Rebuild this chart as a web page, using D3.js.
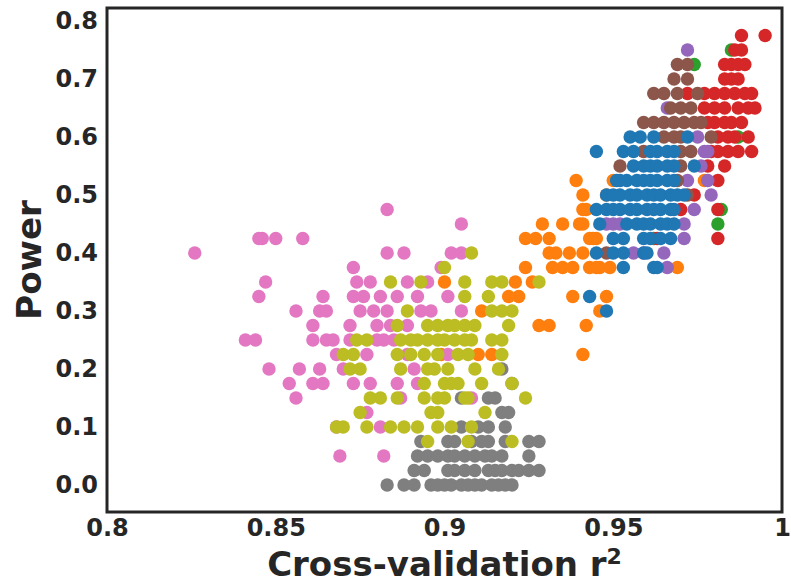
<!DOCTYPE html>
<html>
<head>
<meta charset="utf-8">
<script src="https://cdn.jsdelivr.net/npm/d3@7"></script>
<style>
  body { margin: 0; background: #fff; }
  text { font-family: "DejaVu Sans", sans-serif; font-weight: bold; fill: #262626; }
</style>
</head>
<body>
<div class="chart"></div>
<script>
// Each row: [power, [cross-validation r2 values at that power]]
const pinkRows = [
    [0.475, [0.883]],
    [0.45, [0.905]],
    [0.425, [0.845, 0.846, 0.850, 0.858]],
    [0.4, [0.826, 0.883, 0.888, 0.902, 0.905]],
    [0.375, [0.873, 0.899]],
    [0.35, [0.847, 0.874, 0.878, 0.889, 0.895]],
    [0.325, [0.845, 0.864, 0.873, 0.876, 0.881, 0.886, 0.892, 0.901]],
    [0.3, [0.856, 0.863, 0.865, 0.875, 0.879, 0.883, 0.893, 0.896, 0.905]],
    [0.275, [0.861, 0.872, 0.880, 0.884, 0.889]],
    [0.25, [0.841, 0.844, 0.861, 0.865, 0.867, 0.872, 0.880, 0.882, 0.885]],
    [0.225, [0.868, 0.877, 0.889, 0.901]],
    [0.2, [0.848, 0.857, 0.863, 0.870, 0.891]],
    [0.175, [0.854, 0.861, 0.864, 0.873, 0.878, 0.886, 0.892]],
    [0.15, [0.856, 0.887, 0.908]],
    [0.125, [0.877]],
    [0.1, [0.868, 0.881]],
    [0.05, [0.869, 0.882]]
];

const oliveRows = [
    [0.4, [0.908]],
    [0.375, [0.900]],
    [0.35, [0.884, 0.893, 0.906, 0.914, 0.917, 0.928]],
    [0.325, [0.906, 0.913]],
    [0.3, [0.889, 0.914, 0.917, 0.920]],
    [0.275, [0.886, 0.895, 0.898, 0.901, 0.903, 0.906, 0.909, 0.919]],
    [0.25, [0.874, 0.877, 0.887, 0.890, 0.892, 0.895, 0.898, 0.900, 0.903, 0.906, 0.908, 0.914, 0.917]],
    [0.225, [0.870, 0.873, 0.886, 0.890, 0.894, 0.898, 0.904, 0.907, 0.917]],
    [0.2, [0.872, 0.875, 0.887, 0.895, 0.897, 0.901, 0.909, 0.916]],
    [0.175, [0.894, 0.900, 0.902, 0.904, 0.911, 0.920]],
    [0.15, [0.878, 0.881, 0.886, 0.894, 0.898, 0.900, 0.906, 0.907, 0.924]],
    [0.125, [0.875, 0.896, 0.898, 0.912]],
    [0.1, [0.868, 0.870, 0.877, 0.884, 0.888, 0.892, 0.898, 0.902, 0.908]],
    [0.075, [0.895, 0.907, 0.920]]
];

const grayRows = [
    [0.2, [0.917]],
    [0.175, [0.920]],
    [0.15, [0.905, 0.913, 0.915]],
    [0.125, [0.917, 0.919]],
    [0.1, [0.905, 0.910, 0.913, 0.918]],
    [0.075, [0.893, 0.901, 0.903, 0.908, 0.911, 0.913, 0.918, 0.925, 0.928]],
    [0.05, [0.892, 0.895, 0.898, 0.901, 0.903, 0.906, 0.909, 0.912, 0.914, 0.917, 0.925]],
    [0.025, [0.891, 0.894, 0.901, 0.903, 0.906, 0.909, 0.913, 0.915, 0.917, 0.920, 0.922, 0.925, 0.928]],
    [0.0, [0.883, 0.888, 0.891, 0.896, 0.898, 0.900, 0.902, 0.905, 0.907, 0.909, 0.911, 0.914, 0.916, 0.918, 0.920]]
];

const orangeRows = [
    [0.525, [0.939, 0.950, 0.977]],
    [0.5, [0.941, 0.948]],
    [0.475, [0.941, 0.942]],
    [0.45, [0.929, 0.935, 0.940, 0.941]],
    [0.425, [0.924, 0.927, 0.931, 0.943, 0.944, 0.945]],
    [0.4, [0.931, 0.933, 0.937, 0.941]],
    [0.375, [0.924, 0.932, 0.935, 0.938, 0.943, 0.945, 0.946, 0.949, 0.969]],
    [0.35, [0.900, 0.921, 0.926]],
    [0.325, [0.919, 0.922, 0.938, 0.948]],
    [0.3, [0.911, 0.946]],
    [0.275, [0.928, 0.931, 0.942]],
    [0.225, [0.899, 0.910, 0.914, 0.941]]
];

const blueRows = [
    [0.6, [0.955, 0.958, 0.962, 0.972]],
    [0.575, [0.945, 0.953, 0.956, 0.961, 0.963, 0.966, 0.968]],
    [0.55, [0.956, 0.959, 0.961, 0.963, 0.966, 0.968, 0.974]],
    [0.525, [0.951, 0.952, 0.954, 0.957, 0.959, 0.961, 0.963, 0.966, 0.968]],
    [0.5, [0.948, 0.950, 0.952, 0.955, 0.957, 0.960, 0.962, 0.964, 0.967, 0.969, 0.971]],
    [0.475, [0.945, 0.948, 0.950, 0.952, 0.955, 0.957, 0.960, 0.962, 0.964, 0.967, 0.968]],
    [0.45, [0.946, 0.954, 0.957, 0.959, 0.961, 0.964, 0.966, 0.968]],
    [0.425, [0.950, 0.953, 0.959, 0.961, 0.964, 0.967]],
    [0.4, [0.945, 0.950, 0.953, 0.959, 0.960]],
    [0.375, [0.953, 0.962, 0.963]],
    [0.325, [0.943]],
    [0.3, [0.948]]
];

const brownRows = [
    [0.725, [0.969, 0.972]],
    [0.7, [0.968, 0.972]],
    [0.675, [0.962, 0.965, 0.969, 0.975]],
    [0.65, [0.967, 0.970, 0.973]],
    [0.625, [0.959, 0.962, 0.965, 0.968, 0.971, 0.974, 0.976]],
    [0.6, [0.965, 0.968, 0.970, 0.979]],
    [0.575, [0.959, 0.970, 0.973]],
    [0.55, [0.952, 0.970]],
    [0.525, [0.969]],
    [0.5, [0.972]],
    [0.4, [0.948]]
];

const redRows = [
    [0.775, [0.988, 0.995]],
    [0.75, [0.986, 0.988]],
    [0.725, [0.983, 0.985, 0.987, 0.989]],
    [0.7, [0.983, 0.985, 0.987]],
    [0.675, [0.972, 0.977, 0.980, 0.983, 0.986, 0.989, 0.991]],
    [0.65, [0.977, 0.980, 0.983, 0.987, 0.990, 0.992]],
    [0.625, [0.978, 0.980, 0.983, 0.985, 0.988]],
    [0.6, [0.981, 0.984, 0.986, 0.990]],
    [0.575, [0.979, 0.981, 0.984, 0.987, 0.991]],
    [0.55, [0.978, 0.983]],
    [0.525, [0.981]],
    [0.5, [0.974]],
    [0.475, [0.970, 0.981]],
    [0.425, [0.963, 0.981]]
];

const greenRows = [
    [0.75, [0.985]],
    [0.725, [0.974]],
    [0.6, [0.987]],
    [0.475, [0.982]],
    [0.45, [0.981]],
    [0.425, [0.962]]
];

const purpleRows = [
    [0.75, [0.972]],
    [0.65, [0.966]],
    [0.6, [0.975]],
    [0.575, [0.977, 0.978]],
    [0.55, [0.976]],
    [0.525, [0.972, 0.978]],
    [0.5, [0.979]],
    [0.475, [0.974]],
    [0.45, [0.948, 0.950, 0.952, 0.971]],
    [0.425, [0.971]],
    [0.4, [0.956, 0.959, 0.965]],
    [0.375, [0.966]]
];

const xTicks = [0.8, 0.85, 0.9, 0.95, 1.0];
const xTickLabels = ["0.8", "0.85", "0.9", "0.95", "1"];
const yTicks = [0, 0.1, 0.2, 0.3, 0.4, 0.5, 0.6, 0.7, 0.8];
const yTickLabels = ["0.0", "0.1", "0.2", "0.3", "0.4", "0.5", "0.6", "0.7", "0.8"];

// draw order: later series sit on top
const seriesList = [
    { rows: greenRows, color: "#2ca02c" },
    { rows: redRows, color: "#d62728" },
    { rows: orangeRows, color: "#ff7f0e" },
    { rows: purpleRows, color: "#9467bd" },
    { rows: brownRows, color: "#8c564b" },
    { rows: blueRows, color: "#1f77b4" },
    { rows: pinkRows, color: "#e377c2" },
    { rows: grayRows, color: "#7f7f7f" },
    { rows: oliveRows, color: "#bcbd22" }
];

const width = 791;
const height = 587;
const plot = { left: 107, right: 782, top: 8, bottom: 512 };

const svg = d3.select(".chart")
    .append("svg")
    .attr("width", width)
    .attr("height", height);

const x = d3.scaleLinear().domain([0.8, 1.0]).range([plot.left, plot.right]);
const y = d3.scaleLinear().domain([-0.0466, 0.8224]).range([plot.bottom, plot.top]);

// points
seriesList.forEach(s => {
    const pts = s.rows.flatMap(([p, xs]) => xs.map(r => ({ r2: r, power: p })));
    svg.append("g")
        .selectAll("circle")
        .data(pts)
        .join("circle")
        .attr("cx", d => x(d.r2))
        .attr("cy", d => y(d.power))
        .attr("r", 6.7)
        .attr("fill", s.color);
});

// axes
const xAxis = svg.append("g")
    .attr("transform", `translate(0,${plot.bottom})`)
    .call(d3.axisBottom(x).tickValues(xTicks).tickFormat((d, i) => xTickLabels[i]).tickSize(0).tickPadding(7));
const yAxis = svg.append("g")
    .attr("transform", `translate(${plot.left},0)`)
    .call(d3.axisLeft(y).tickValues(yTicks).tickFormat((d, i) => yTickLabels[i]).tickSize(0).tickPadding(9));

[xAxis, yAxis].forEach(a => {
    a.select(".domain").remove();
    a.selectAll("text")
        .style("font-family", "'DejaVu Sans', sans-serif")
        .style("font-size", "24px")
        .style("font-weight", "bold")
        .attr("fill", "#262626");
});

// frame
svg.append("rect")
    .attr("x", plot.left)
    .attr("y", plot.top)
    .attr("width", plot.right - plot.left)
    .attr("height", plot.bottom - plot.top)
    .attr("fill", "none")
    .attr("stroke", "#262626")
    .attr("stroke-width", 3);

// axis titles
const xTitle = svg.append("text")
    .attr("x", (plot.left + plot.right) / 2)
    .attr("y", 576)
    .attr("text-anchor", "middle")
    .style("font-size", "34px");
xTitle.append("tspan").text("Cross-validation r");
xTitle.append("tspan")
    .attr("dy", -12)
    .style("font-size", "22px")
    .text("2");

svg.append("text")
    .attr("transform", `translate(41,${(plot.top + plot.bottom) / 2}) rotate(-90)`)
    .attr("text-anchor", "middle")
    .style("font-size", "34px")
    .text("Power");
</script>
</body>
</html>
